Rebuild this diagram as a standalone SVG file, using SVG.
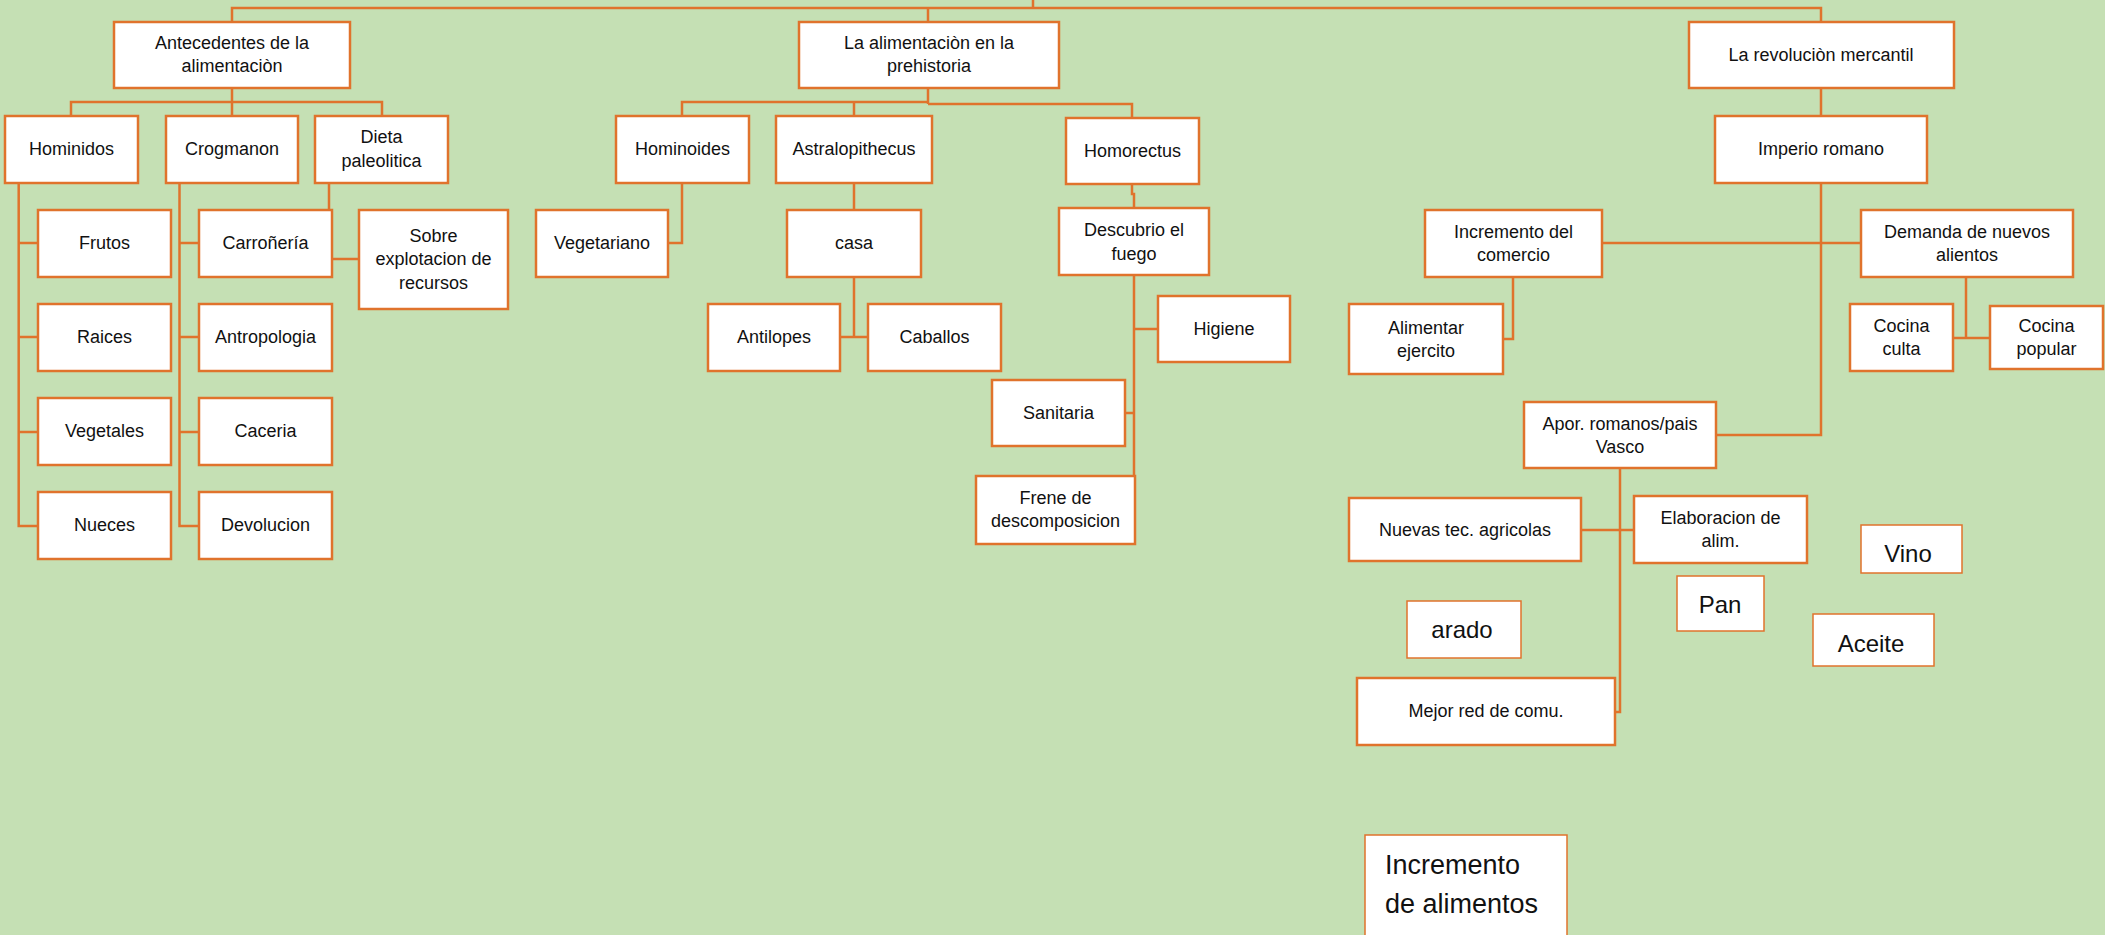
<svg xmlns="http://www.w3.org/2000/svg" width="2105" height="935" viewBox="0 0 2105 935">
<style>
.bx{fill:#FFFFFF;stroke:#E0732C;stroke-width:2.5}
.bt{fill:#FFFFFF;stroke:#E0732C;stroke-width:1.5}
.c{fill:none;stroke:#E0732C;stroke-width:2.5}
text{font-family:"Liberation Sans",Arial,sans-serif;font-size:18px;fill:#111111;text-anchor:middle}
.big{font-size:24px}
.huge{font-size:27px;text-anchor:start}
</style>
<rect x="0" y="0" width="2105" height="935" fill="#C5E0B4"/>
<g id="connectors">
<polyline class="c" points="232,22 232,8 1821,8 1821,22"/>
<line class="c" x1="1033" y1="0" x2="1033" y2="8"/>
<line class="c" x1="928" y1="8" x2="928" y2="22"/>
<line class="c" x1="232" y1="88" x2="232" y2="116"/>
<polyline class="c" points="71,116 71,102 382,102 382,116"/>
<polyline class="c" points="18.7,183 18.7,526 38,526"/>
<line class="c" x1="18.7" y1="243" x2="38" y2="243"/>
<line class="c" x1="18.7" y1="337" x2="38" y2="337"/>
<line class="c" x1="18.7" y1="432" x2="38" y2="432"/>
<polyline class="c" points="179.5,183 179.5,526 199,526"/>
<line class="c" x1="179.5" y1="243" x2="199" y2="243"/>
<line class="c" x1="179.5" y1="337" x2="199" y2="337"/>
<line class="c" x1="179.5" y1="432" x2="199" y2="432"/>
<line class="c" x1="329" y1="183" x2="329" y2="210"/>
<line class="c" x1="332" y1="259" x2="359" y2="259"/>
<line class="c" x1="928" y1="88" x2="928" y2="104"/>
<polyline class="c" points="682,116 682,102 928,102"/>
<line class="c" x1="854" y1="102" x2="854" y2="116"/>
<polyline class="c" points="928,104 1132,104 1132,118"/>
<polyline class="c" points="682,183 682,243 668,243"/>
<line class="c" x1="854" y1="183" x2="854" y2="337"/>
<line class="c" x1="840" y1="337" x2="868" y2="337"/>
<polyline class="c" points="1132,184 1132,194 1134,194 1134,208"/>
<line class="c" x1="1134" y1="275" x2="1134" y2="510"/>
<line class="c" x1="1134" y1="329" x2="1158" y2="329"/>
<line class="c" x1="1125" y1="413" x2="1134" y2="413"/>
<line class="c" x1="1821" y1="88" x2="1821" y2="116"/>
<polyline class="c" points="1821,183 1821,435 1716,435"/>
<line class="c" x1="1602" y1="243" x2="1861" y2="243"/>
<polyline class="c" points="1513,277 1513,339 1503,339"/>
<line class="c" x1="1966" y1="277" x2="1966" y2="338"/>
<line class="c" x1="1953" y1="338" x2="1990" y2="338"/>
<polyline class="c" points="1620,468 1620,712 1615,712"/>
<line class="c" x1="1581" y1="530" x2="1634" y2="530"/>
</g>
<g id="n-antecedentes"><rect class="bx" x="114" y="22" width="236" height="66"/><text x="232" y="49">Antecedentes de la</text><text x="232" y="72">alimentaciòn</text></g>
<g id="n-prehistoria"><rect class="bx" x="799" y="22" width="260" height="66"/><text x="929" y="49">La alimentaciòn en la</text><text x="929" y="72">prehistoria</text></g>
<g id="n-revolucion"><rect class="bx" x="1689" y="22" width="265" height="66"/><text x="1821" y="61">La revoluciòn mercantil</text></g>
<g id="n-hominidos"><rect class="bx" x="5" y="116" width="133" height="67"/><text x="71.5" y="155">Hominidos</text></g>
<g id="n-crogmanon"><rect class="bx" x="166" y="116" width="132" height="67"/><text x="232" y="155">Crogmanon</text></g>
<g id="n-dieta"><rect class="bx" x="315" y="116" width="133" height="67"/><text x="381.5" y="143">Dieta</text><text x="381.5" y="167">paleolitica</text></g>
<g id="n-hominoides"><rect class="bx" x="616" y="116" width="133" height="67"/><text x="682.5" y="155">Hominoides</text></g>
<g id="n-astralopithecus"><rect class="bx" x="776" y="116" width="156" height="67"/><text x="854" y="155">Astralopithecus</text></g>
<g id="n-homorectus"><rect class="bx" x="1066" y="118" width="133" height="66"/><text x="1132.5" y="157">Homorectus</text></g>
<g id="n-imperio"><rect class="bx" x="1715" y="116" width="212" height="67"/><text x="1821" y="155">Imperio romano</text></g>
<g id="n-frutos"><rect class="bx" x="38" y="210" width="133" height="67"/><text x="104.5" y="249">Frutos</text></g>
<g id="n-raices"><rect class="bx" x="38" y="304" width="133" height="67"/><text x="104.5" y="343">Raices</text></g>
<g id="n-vegetales"><rect class="bx" x="38" y="398" width="133" height="67"/><text x="104.5" y="437">Vegetales</text></g>
<g id="n-nueces"><rect class="bx" x="38" y="492" width="133" height="67"/><text x="104.5" y="531">Nueces</text></g>
<g id="n-carroneria"><rect class="bx" x="199" y="210" width="133" height="67"/><text x="265.5" y="249">Carroñería</text></g>
<g id="n-antropologia"><rect class="bx" x="199" y="304" width="133" height="67"/><text x="265.5" y="343">Antropologia</text></g>
<g id="n-caceria"><rect class="bx" x="199" y="398" width="133" height="67"/><text x="265.5" y="437">Caceria</text></g>
<g id="n-devolucion"><rect class="bx" x="199" y="492" width="133" height="67"/><text x="265.5" y="531">Devolucion</text></g>
<g id="n-sobre"><rect class="bx" x="359" y="210" width="149" height="99"/><text x="433.5" y="242">Sobre</text><text x="433.5" y="265">explotacion de</text><text x="433.5" y="289">recursos</text></g>
<g id="n-vegetariano"><rect class="bx" x="536" y="210" width="132" height="67"/><text x="602" y="249">Vegetariano</text></g>
<g id="n-casa"><rect class="bx" x="787" y="210" width="134" height="67"/><text x="854" y="249">casa</text></g>
<g id="n-antilopes"><rect class="bx" x="708" y="304" width="132" height="67"/><text x="774" y="343">Antilopes</text></g>
<g id="n-caballos"><rect class="bx" x="868" y="304" width="133" height="67"/><text x="934.5" y="343">Caballos</text></g>
<g id="n-fuego"><rect class="bx" x="1059" y="208" width="150" height="67"/><text x="1134" y="236">Descubrio el</text><text x="1134" y="260">fuego</text></g>
<g id="n-higiene"><rect class="bx" x="1158" y="296" width="132" height="66"/><text x="1224" y="335">Higiene</text></g>
<g id="n-sanitaria"><rect class="bx" x="992" y="380" width="133" height="66"/><text x="1058.5" y="419">Sanitaria</text></g>
<g id="n-frene"><rect class="bx" x="976" y="476" width="159" height="68"/><text x="1055.5" y="504">Frene de</text><text x="1055.5" y="527">descomposicion</text></g>
<g id="n-comercio"><rect class="bx" x="1425" y="210" width="177" height="67"/><text x="1513.5" y="238">Incremento del</text><text x="1513.5" y="261">comercio</text></g>
<g id="n-demanda"><rect class="bx" x="1861" y="210" width="212" height="67"/><text x="1967" y="238">Demanda de nuevos</text><text x="1967" y="261">alientos</text></g>
<g id="n-alimentar"><rect class="bx" x="1349" y="304" width="154" height="70"/><text x="1426" y="334">Alimentar</text><text x="1426" y="357">ejercito</text></g>
<g id="n-culta"><rect class="bx" x="1850" y="304" width="103" height="67"/><text x="1901.5" y="332">Cocina</text><text x="1901.5" y="355">culta</text></g>
<g id="n-popular"><rect class="bx" x="1990" y="306" width="113" height="63"/><text x="2046.5" y="332">Cocina</text><text x="2046.5" y="355">popular</text></g>
<g id="n-apor"><rect class="bx" x="1524" y="402" width="192" height="66"/><text x="1620" y="430">Apor. romanos/pais</text><text x="1620" y="453">Vasco</text></g>
<g id="n-nuevas"><rect class="bx" x="1349" y="498" width="232" height="63"/><text x="1465" y="536">Nuevas tec. agricolas</text></g>
<g id="n-elaboracion"><rect class="bx" x="1634" y="496" width="173" height="67"/><text x="1720.5" y="524">Elaboracion de</text><text x="1720.5" y="547">alim.</text></g>
<g id="n-mejor"><rect class="bx" x="1357" y="678" width="258" height="67"/><text x="1486" y="717">Mejor red de comu.</text></g>
<g id="n-vino"><rect class="bt" x="1861" y="525" width="101" height="48"/><text class="big" x="1908" y="562">Vino</text></g>
<g id="n-pan"><rect class="bt" x="1677" y="576" width="87" height="55"/><text class="big" x="1720" y="613">Pan</text></g>
<g id="n-arado"><rect class="bt" x="1407" y="601" width="114" height="57"/><text class="big" x="1462" y="638">arado</text></g>
<g id="n-aceite"><rect class="bt" x="1813" y="614" width="121" height="52"/><text class="big" x="1871" y="652">Aceite</text></g>
<g id="n-incremento-alimentos"><rect class="bt" x="1365" y="835" width="202" height="110"/><text class="huge" x="1385" y="874">Incremento</text><text class="huge" x="1385" y="913">de alimentos</text></g>
</svg>
